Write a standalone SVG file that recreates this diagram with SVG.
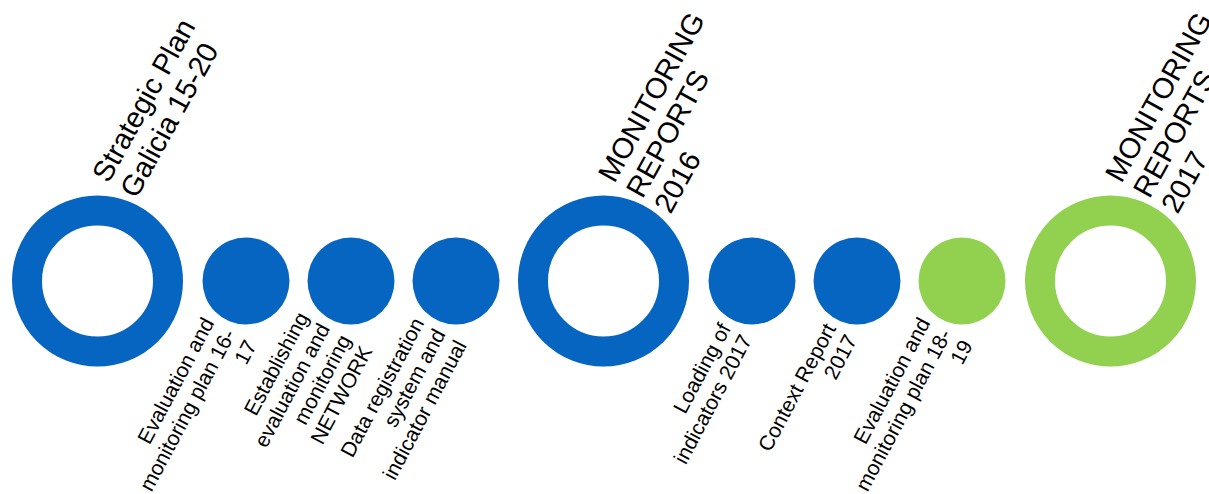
<svg xmlns="http://www.w3.org/2000/svg" width="1209" height="494" viewBox="0 0 1209 494">
<style>
.ringb{fill:none;stroke:#0665C0;stroke-width:30}
.ringg{fill:none;stroke:#92D050;stroke-width:30}
.dotb{fill:#0665C0}
.dotg{fill:#92D050}
.top{font-family:"Liberation Sans",Arial,sans-serif;font-size:29px;fill:#000}
.bot{font-family:"Liberation Sans",Arial,sans-serif;font-size:21px;fill:#000;text-anchor:end}
</style>
<rect width="1209" height="494" fill="#fff"/>
<g id="connectors"></g>
<g id="n1">
<circle class="ringb" cx="97.5" cy="281" r="70.5"/>
<text class="top" transform="translate(108.5,184) rotate(-61)"><tspan x="0" y="0">Strategic Plan</tspan><tspan x="0" y="32">Galicia 15-20</tspan></text>
</g>
<g id="n2">
<circle class="dotb" cx="246" cy="281" r="43.5"/>
<text class="bot" transform="translate(236,334) rotate(-62)"><tspan x="0" y="-24">Evaluation and</tspan><tspan x="0" y="0">monitoring plan 16-</tspan><tspan x="0" y="24">17</tspan></text>
</g>
<g id="n3">
<circle class="dotb" cx="351" cy="281" r="43.5"/>
<text class="bot" transform="translate(341,334) rotate(-62)"><tspan x="0" y="-36">Establishing</tspan><tspan x="0" y="-12">evaluation and</tspan><tspan x="0" y="12">monitoring</tspan><tspan x="0" y="36">NETWORK</tspan></text>
</g>
<g id="n4">
<circle class="dotb" cx="456" cy="281" r="43.5"/>
<text class="bot" transform="translate(446,334) rotate(-62)"><tspan x="0" y="-24">Data registration</tspan><tspan x="0" y="0">system and</tspan><tspan x="0" y="24">indicator manual</tspan></text>
</g>
<g id="n5">
<circle class="ringb" cx="603.5" cy="281" r="70.5"/>
<text class="top" transform="translate(614.5,184) rotate(-61)"><tspan x="0" y="0">MONITORING</tspan><tspan x="0" y="32">REPORTS</tspan><tspan x="0" y="64">2016</tspan></text>
</g>
<g id="n6">
<circle class="dotb" cx="752" cy="281" r="43.5"/>
<text class="bot" transform="translate(742,334) rotate(-62)"><tspan x="0" y="-12">Loading of</tspan><tspan x="0" y="12">indicators 2017</tspan></text>
</g>
<g id="n7">
<circle class="dotb" cx="857" cy="281" r="43.5"/>
<text class="bot" transform="translate(847,334) rotate(-62)"><tspan x="0" y="-12">Context Report</tspan><tspan x="0" y="12">2017</tspan></text>
</g>
<g id="n8">
<circle class="dotg" cx="962" cy="281" r="43.5"/>
<text class="bot" transform="translate(952,334) rotate(-62)"><tspan x="0" y="-24">Evaluation and</tspan><tspan x="0" y="0">monitoring plan 18-</tspan><tspan x="0" y="24">19</tspan></text>
</g>
<g id="n9">
<circle class="ringg" cx="1110.5" cy="281" r="70.5"/>
<text class="top" transform="translate(1121.5,184) rotate(-61)"><tspan x="0" y="0">MONITORING</tspan><tspan x="0" y="32">REPORTS</tspan><tspan x="0" y="64">2017</tspan></text>
</g>
</svg>
